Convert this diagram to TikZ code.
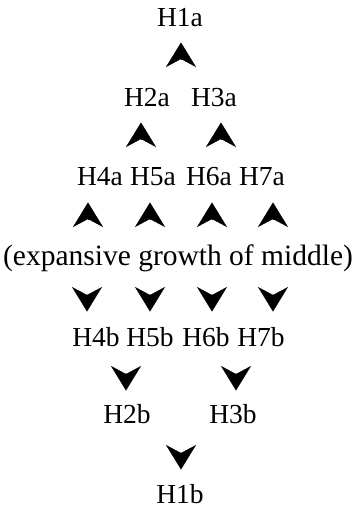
\documentclass[tikz,border=0pt]{standalone}
\usepackage{fontspec}
\setmainfont{Liberation Serif}
\usetikzlibrary{arrows.meta}

\tikzset{
  lbl/.style={anchor=base, inner sep=0pt, font=\fontsize{27.5}{32}\selectfont},
  widelbl/.style={anchor=base, inner sep=0pt, font=\fontsize{29.5}{34}\selectfont},
  % a bare arrowhead: the path runs from the notch to the tip only
  head/.style={line width=0.2pt, -{Stealth[length=24.5pt, width=30pt, inset=8pt]}},
}

\begin{document}
\begin{tikzpicture}[x=1pt, y=-1pt]
  \useasboundingbox (0,0) rectangle (353,507);

  % upper half: labels
  \node[lbl] (H1a) at (180,26.5) {H1a};
  \node[lbl] (H2a) at (147,106.5) {H2a};
  \node[lbl] (H3a) at (214,106.5) {H3a};
  \node[lbl] (H4a) at (100,185) {H4a};
  \node[lbl] (H5a) at (153,185) {H5a};
  \node[lbl] (H6a) at (209,185) {H6a};
  \node[lbl] (H7a) at (262,185) {H7a};

  % middle
  \node[widelbl] (mid) at (178,265) {(expansive growth of middle)};

  % lower half: labels
  \node[lbl] (H4b) at (96,346) {H4b};
  \node[lbl] (H5b) at (150,346) {H5b};
  \node[lbl] (H6b) at (206,346) {H6b};
  \node[lbl] (H7b) at (261,346) {H7b};
  \node[lbl] (H2b) at (127,423) {H2b};
  \node[lbl] (H3b) at (233,423) {H3b};
  \node[lbl] (H1b) at (180,503) {H1b};

  % arrowheads: notch point (b) and tip point (t)
  \coordinate (u1b) at (181,59);    \coordinate (u1t) at (181,42.5);
  \coordinate (u2b) at (141,139);   \coordinate (u2t) at (141,122.5);
  \coordinate (u3b) at (221,139);   \coordinate (u3t) at (221,122.5);
  \coordinate (u4b) at (88,219);    \coordinate (u4t) at (88,202.5);
  \coordinate (u5b) at (150,219);   \coordinate (u5t) at (150,202.5);
  \coordinate (u6b) at (212,219);   \coordinate (u6t) at (212,202.5);
  \coordinate (u7b) at (273,219);   \coordinate (u7t) at (273,202.5);

  \coordinate (d4b) at (87,295);    \coordinate (d4t) at (87,311.5);
  \coordinate (d5b) at (150,295);   \coordinate (d5t) at (150,311.5);
  \coordinate (d6b) at (212,295);   \coordinate (d6t) at (212,311.5);
  \coordinate (d7b) at (273,295);   \coordinate (d7t) at (273,311.5);
  \coordinate (d2b) at (126,374);   \coordinate (d2t) at (126,390.5);
  \coordinate (d3b) at (236,374);   \coordinate (d3t) at (236,390.5);
  \coordinate (d1b) at (181,453);   \coordinate (d1t) at (181,469.5);

  \foreach \k in {u1,u2,u3,u4,u5,u6,u7,d4,d5,d6,d7,d2,d3,d1}
    \draw[head] (\k b) -- (\k t);
\end{tikzpicture}
\end{document}
